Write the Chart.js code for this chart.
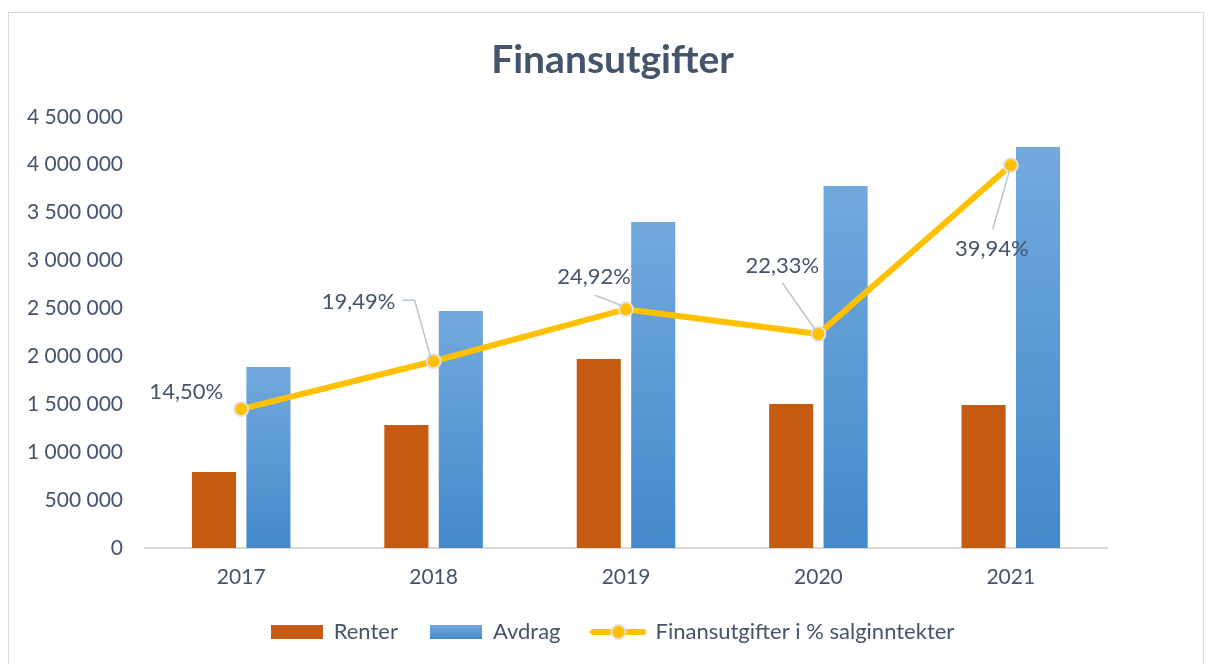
<!DOCTYPE html>
<html>
<head>
<meta charset="utf-8">
<script src="https://cdn.jsdelivr.net/npm/chart.js@4"></script>
<style>
  body { margin: 0; background: #fff; }
  #wrap { position: relative; width: 1215px; height: 664px; }
  #frame { position: absolute; left: 8px; top: 12px; width: 1196px; height: 660px; border: 1px solid #d9d9d9; box-sizing: border-box; }
  canvas { position: absolute; left: 0; top: 0; }
</style>
</head>
<body>
<div id="wrap">
  <div id="frame"></div>
  <canvas id="chart" width="1215" height="664"></canvas>
</div>
<script>
// data
var years = ['2017', '2018', '2019', '2020', '2021'];
var renter = [793000, 1284000, 1973000, 1503000, 1493000];
var avdrag = [1889000, 2474000, 3403000, 3779000, 4186000];
var andel = [14.50, 19.49, 24.92, 22.33, 39.94]; // % of salginntekter

var textColor = '#44546A';
var fontName = 'Lato, "Open Sans", sans-serif';

// label placement for the percentage labels (offset from point, leader line)
var labelPos = [
  { dx: -55, dy: -17, leader: null },
  { dx: -75, dy: -59, leader: [[-3, -4], [-19, -61], [-31, -61]] },
  { dx: -32, dy: -32, leader: [[-5, -4], [-31, -14]] },
  { dx: -36, dy: -68, leader: [[-3, -4], [-36, -51]] },
  { dx: -19, dy: 84, leader: [[-1, 4], [-18, 64]] }
];

function spaced(n) {
  return String(n).replace(/\B(?=(\d{3})+(?!\d))/g, ' ');
}

function blueBar(ctx) {
  var chart = ctx.chart;
  if (!chart.chartArea || ctx.raw === undefined) return '#5B9BD5';
  var top = chart.scales.y.getPixelForValue(ctx.raw);
  var bot = chart.scales.y.getPixelForValue(0);
  var g = chart.ctx.createLinearGradient(0, top, 0, bot);
  g.addColorStop(0, '#73A9DD');
  g.addColorStop(1, '#4489CA');
  return g;
}

// legend symbols
function makeBox(fill) {
  var c = document.createElement('canvas');
  c.width = 52; c.height = 14;
  var x = c.getContext('2d');
  if (fill === 'grad') {
    var g = x.createLinearGradient(0, 0, 0, 14);
    g.addColorStop(0, '#73A9DD');
    g.addColorStop(1, '#4489CA');
    x.fillStyle = g;
  } else {
    x.fillStyle = fill;
  }
  x.fillRect(0, 0, 52, 14);
  return c;
}
function makeLineSym() {
  var c = document.createElement('canvas');
  c.width = 56; c.height = 18;
  var x = c.getContext('2d');
  x.strokeStyle = '#FFC000';
  x.lineWidth = 6;
  x.lineCap = 'round';
  x.beginPath(); x.moveTo(3, 9); x.lineTo(53, 9); x.stroke();
  x.beginPath(); x.arc(28, 9, 7, 0, Math.PI * 2);
  x.fillStyle = '#FFC000'; x.fill();
  x.lineWidth = 2; x.strokeStyle = '#E2E2E2'; x.stroke();
  return c;
}
var legendSyms = [makeBox('#C55A11'), makeBox('grad'), makeLineSym()];

var pctLabels = {
  id: 'pctLabels',
  afterDatasetsDraw: function(chart) {
    var meta = chart.getDatasetMeta(2);
    var c = chart.ctx;
    c.save();
    meta.data.forEach(function(pt, i) {
      var p = labelPos[i];
      if (p.leader) {
        c.strokeStyle = '#BAC5D4';
        c.lineWidth = 1.5;
        c.beginPath();
        p.leader.forEach(function(o, k) {
          if (k === 0) c.moveTo(pt.x + o[0], pt.y + o[1]);
          else c.lineTo(pt.x + o[0], pt.y + o[1]);
        });
        c.stroke();
      }
    });
    meta.data.forEach(function(pt, i) {
      var p = labelPos[i];
      c.fillStyle = textColor;
      c.font = '22px ' + fontName;
      c.textAlign = 'center';
      c.textBaseline = 'middle';
      c.fillText(andel[i].toFixed(2).replace('.', ',') + '%', pt.x + p.dx, pt.y + p.dy);
    });
    c.restore();
  }
};

new Chart(document.getElementById('chart'), {
  data: {
    labels: years,
    datasets: [
      {
        type: 'bar',
        label: 'Renter',
        data: renter,
        backgroundColor: '#C55A11',
        categoryPercentage: 0.566,
        barPercentage: 0.81,
        order: 2
      },
      {
        type: 'bar',
        label: 'Avdrag',
        data: avdrag,
        backgroundColor: blueBar,
        categoryPercentage: 0.566,
        barPercentage: 0.81,
        order: 2
      },
      {
        type: 'line',
        label: 'Finansutgifter i % salginntekter',
        data: andel,
        yAxisID: 'y1',
        borderColor: '#FFC000',
        borderWidth: 6,
        pointRadius: 7,
        pointBackgroundColor: '#FFC000',
        pointBorderColor: '#E2E2E2',
        pointBorderWidth: 2,
        tension: 0,
        order: 0
      }
    ]
  },
  options: {
    responsive: false,
    animation: false,
    layout: { padding: { left: 10, right: 0, top: 0, bottom: 11 } },
    plugins: {
      title: {
        display: true,
        text: 'Finansutgifter',
        color: textColor,
        font: { family: fontName, size: 39, weight: 'bold' },
        padding: { top: 37, bottom: 33 }
      },
      legend: {
        position: 'bottom',
        labels: {
          color: textColor,
          font: { family: fontName, size: 22 },
          usePointStyle: true,
          pointStyleWidth: 52,
          padding: 32,
          generateLabels: function(chart) {
            return chart.data.datasets.map(function(ds, i) {
              return {
                text: ds.label,
                pointStyle: legendSyms[i],
                fontColor: textColor,
                datasetIndex: i,
                lineWidth: 0
              };
            });
          }
        }
      },
      tooltip: { enabled: false }
    },
    scales: {
      x: {
        clip: false,
        grid: { display: false, drawTicks: false },
        border: { display: true, color: '#D9D9D9', width: 2 },
        ticks: { color: textColor, font: { family: fontName, size: 21 }, padding: 17 },
        afterFit: function(scale) { scale.height = 41; }
      },
      y: {
        min: 0,
        max: 4500000,
        grid: { display: false, drawTicks: false },
        border: { display: false },
        ticks: {
          stepSize: 500000,
          color: textColor,
          font: { family: fontName, size: 21 },
          padding: 22,
          callback: function(v) { return spaced(v); }
        },
        afterFit: function(scale) { scale.width = 135; }
      },
      y1: {
        position: 'right',
        min: 0,
        max: 45,
        grid: { display: false, drawTicks: false },
        border: { display: false },
        ticks: { display: false },
        afterFit: function(scale) { scale.width = 108; }
      }
    }
  },
  plugins: [pctLabels]
});
</script>
</body>
</html>
